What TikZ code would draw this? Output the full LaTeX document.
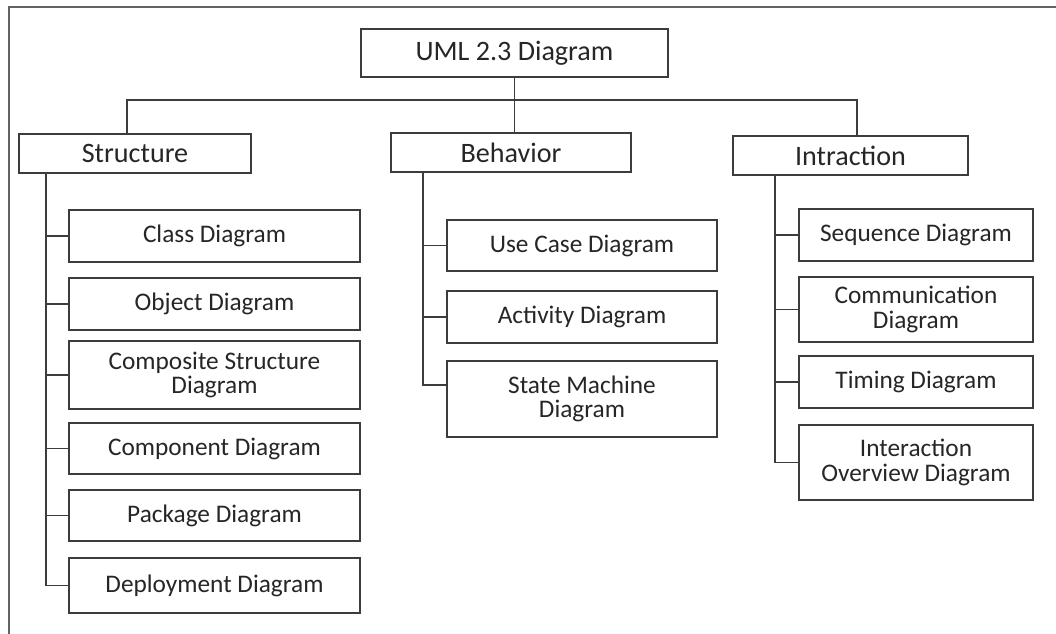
\documentclass[tikz,border=0pt]{standalone}
\usepackage{fontspec}
\setmainfont{Carlito}
\usetikzlibrary{positioning,calc}
\definecolor{linegray}{HTML}{3C3C3C}
\definecolor{textgray}{HTML}{262626}

\begin{document}
\begin{tikzpicture}[
    box/.style={draw=linegray, line width=0.9pt, fill=white, text=textgray, inner sep=0pt,
        outer sep=0pt, align=center, font=\fontsize{14.4}{13.8}\selectfont},
    head/.style={box, font=\fontsize{16}{16}\selectfont, minimum height=0.78cm},
    sbox/.style={box, minimum width=5.82cm},
    bbox/.style={box, minimum width=5.4cm},
    ibox/.style={box, minimum width=4.68cm},
    link/.style={draw=linegray, line width=0.9pt},
    frame/.style={draw=linegray!80, line width=0.8pt}
]
    \useasboundingbox (0,0) rectangle (21.12,-12.68);
    \draw[frame] (0.18,-12.68) -- (0.18,-0.14) -- (21.12,-0.14);

    \node[head, minimum width=6.14cm, minimum height=0.96cm] (uml) at (10.29,-1.06) {UML 2.3 Diagram};
    \node[head, minimum width=4.64cm] (str) at (2.70,-3.07) {Structure};
    \node[head, minimum width=4.8cm] (beh) at (10.22,-3.05) {Behavior};
    \node[head, minimum width=4.7cm] (int) at (17.01,-3.11) {Intraction};

    \node[sbox, minimum height=1.04cm, below right=0.74cm and 1cm of str.south west] (cls) {Class Diagram};
    \node[sbox, minimum height=1.04cm, below=0.32cm of cls] (obj) {Object Diagram};
    \node[sbox, minimum height=1.36cm, below=0.22cm of obj] (csd) {Composite Structure\\Diagram};
    \node[sbox, minimum height=1.02cm, below=0.28cm of csd] (cmp) {Component Diagram};
    \node[sbox, minimum height=1.02cm, below=0.32cm of cmp] (pkg) {Package Diagram};
    \node[sbox, minimum height=1.1cm, below=0.34cm of pkg] (dep) {Deployment Diagram};

    \node[bbox, minimum height=1.02cm, below right=0.96cm and 1.12cm of beh.south west] (ucd) {Use Case Diagram};
    \node[bbox, minimum height=1.04cm, below=0.4cm of ucd] (act) {Activity Diagram};
    \node[bbox, minimum height=1.52cm, below=0.36cm of act] (smd) {State Machine\\Diagram};

    \node[ibox, minimum height=1.04cm, below right=0.68cm and 1.32cm of int.south west] (seq) {Sequence Diagram};
    \node[ibox, minimum height=1.3cm, below=0.32cm of seq] (com) {Communication\\Diagram};
    \node[ibox, minimum height=1.04cm, below=0.28cm of com] (tim) {Timing Diagram};
    \node[ibox, minimum height=1.5cm, below=0.34cm of tim] (iod) {Interaction\\Overview Diagram};

    \coordinate[below=0.46cm of uml.south] (bus);
    \draw[link] (uml.south) -- (uml.south |- beh.north);
    \draw[link] ([xshift=-0.16cm]str.north) |- (bus) -| ([xshift=0.13cm]int.north);

    \coordinate (strtop) at ([xshift=0.54cm]str.south west);
    \draw[link] (strtop) |- (dep.west);
    \foreach \n in {cls,obj,csd,cmp,pkg}
        \draw[link] (\n.west) -- (\n.west -| strtop);

    \coordinate (behtop) at ([xshift=0.64cm]beh.south west);
    \draw[link] (behtop) |- ([yshift=0.28cm]smd.west);
    \foreach \n in {ucd,act}
        \draw[link] (\n.west) -- (\n.west -| behtop);

    \coordinate (inttop) at ([xshift=0.84cm]int.south west);
    \draw[link] (inttop) |- (iod.west);
    \foreach \n in {seq,com,tim}
        \draw[link] (\n.west) -- (\n.west -| inttop);
\end{tikzpicture}
\end{document}
